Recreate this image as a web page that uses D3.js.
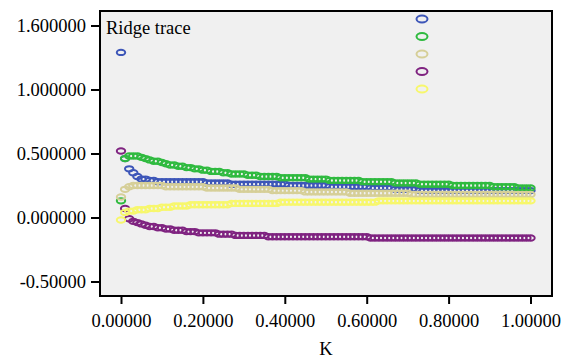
<!DOCTYPE html>
<html><head><meta charset="utf-8">
<script src="https://cdn.jsdelivr.net/npm/d3@7"></script>
<style>
body{margin:0;background:#fff;}
text{font-family:"Liberation Serif","Times New Roman",serif;fill:#000;}
</style></head>
<body><svg id="c" width="568" height="358"></svg>
<script>
const kStart = 0, kStep = 0.01;
const seriesNames = ["b1","b2","b3","b4","b5"];
const seriesColors = ["#3d56b8","#2fba3f","#d6cf98","#7f2380","#f7f76c"];
const blue = [1.29,0.46,0.38,0.35,0.32,0.30,0.30,0.29,0.29,0.28,0.28,
 0.28,0.28,0.28,0.28,0.28,0.28,0.28,0.28,0.28,0.28,
 0.27,0.27,0.27,0.27,0.27,0.27,
 0.26,0.26,0.26,0.26,0.26,0.26,0.26,0.26,0.26,0.26,0.26,0.26,0.26,0.26,
 0.25,0.25,0.25,0.25,0.25,0.25,0.25,0.25,0.25,0.25,
 0.24,0.24,0.24,0.24,0.24,0.24,0.24,0.24,0.24,0.24,
 0.23,0.23,0.23,0.23,0.23,0.23,
 0.22,0.22,0.22,0.22,0.22,0.22,
 0.21,0.21,0.21,0.21,0.21,0.21,0.21,0.21,0.21,0.21,0.21,0.21,0.21,0.21,
 0.21,0.21,0.21,0.21,0.21,0.21,0.21,0.21,0.21,0.21,0.21,0.21,0.21,0.21];
const green = [0.13,0.46,0.48,0.48,0.48,0.47,0.46,0.45,0.44,0.44,0.43,0.42,0.41,0.41,0.40,0.40,0.39,0.39,0.38,0.38,
 0.37,0.37,0.36,0.36,0.36,0.35,0.35,0.34,0.34,0.34,0.34,0.33,0.33,0.33,0.32,
 0.32,0.32,0.32,0.32,0.31,0.31,0.31,0.31,
 0.31,0.31,0.31,0.30,0.30,0.30,0.30,0.30,
 0.29,0.29,0.29,0.29,0.29,0.29,0.29,0.29,
 0.28,0.28,0.28,0.28,0.28,0.28,0.28,0.28,
 0.27,0.27,0.27,0.27,0.27,0.27,
 0.26,0.26,0.26,0.26,0.26,0.26,0.26,0.26,
 0.25,0.25,0.25,0.25,0.25,0.25,0.25,0.25,0.25,0.25,
 0.24,0.24,0.24,0.24,0.24,0.24,
 0.23,0.23,0.23,0.23];
const tan = [0.16,0.22,0.24,
 0.25,0.25,0.25,0.25,0.25,0.25,0.25,0.25,0.24,0.24,0.24,0.24,0.24,0.24,0.24,0.24,0.24,0.24,
 0.23,0.23,0.23,0.23,0.23,0.23,0.23,0.23,
 0.22,0.22,0.22,0.22,0.22,0.22,0.22,0.22,
 0.21,0.21,0.21,0.21,0.21,0.21,0.21,0.21,
 0.20,0.20,0.20,0.20,0.20,0.20,0.20,0.20,0.20,0.20,0.20,
 0.19,0.19,0.19,0.19,0.19,0.19,0.19,0.19,0.19,0.19,0.19,0.19,0.19,0.19,0.19,
 0.18,0.18,0.18,0.18,0.18,0.18,0.18,0.18,0.18,0.18,0.18,0.18,0.18,0.18,0.18,
 0.18,0.18,0.18,0.18,0.18,0.18,0.18,0.18,0.18,0.18,0.18,0.18,0.18,0.18,0.18];
const purple = [0.52,0.07,-0.01,-0.03,-0.04,-0.05,-0.06,-0.07,-0.07,-0.08,-0.08,-0.09,-0.09,-0.10,-0.10,-0.10,-0.11,-0.11,-0.11,-0.12,-0.12,
 -0.12,-0.12,-0.12,-0.13,-0.13,-0.13,-0.13,
 -0.14,-0.14,-0.14,-0.14,-0.14,-0.14,-0.14,-0.14,
 -0.15,-0.15,-0.15,-0.15,-0.15,-0.15,-0.15,-0.15,-0.15,-0.15,-0.15,-0.15,-0.15,-0.15,-0.15,-0.15,-0.15,-0.15,-0.15,-0.15,-0.15,-0.15,-0.15,-0.15,-0.15,
 -0.16,-0.16,-0.16,-0.16,-0.16,-0.16,-0.16,-0.16,-0.16,-0.16,-0.16,-0.16,-0.16,-0.16,-0.16,-0.16,-0.16,-0.16,-0.16,-0.16,
 -0.16,-0.16,-0.16,-0.16,-0.16,-0.16,-0.16,-0.16,-0.16,-0.16,-0.16,-0.16,-0.16,-0.16,-0.16,-0.16,-0.16,-0.16,-0.16,-0.16];
const yellow = [-0.02,0.04,0.05,0.05,0.06,0.06,0.06,0.07,0.07,0.07,0.08,0.08,0.08,0.09,0.09,0.09,0.09,0.10,0.10,0.10,0.10,
 0.10,0.10,0.10,0.10,0.10,0.10,0.11,0.11,0.11,0.11,0.11,0.11,0.11,
 0.11,0.11,0.11,0.11,0.11,0.12,0.12,0.12,0.12,0.12,0.12,0.12,
 0.12,0.12,0.12,0.12,0.12,0.12,0.12,0.12,0.12,0.12,0.12,0.12,0.12,0.12,0.12,0.12,0.12,
 0.13,0.13,0.13,0.13,0.13,0.13,0.13,0.13,0.13,0.13,0.13,0.13,0.13,0.13,0.13,0.13,0.13,0.13,0.13,
 0.13,0.13,0.13,0.13,0.13,0.13,0.13,0.13,0.13,0.13,0.13,0.13,0.13,0.13,0.13,0.13,0.13,0.13,0.13];
const xTicks = [0,0.2,0.4,0.6,0.8,1.0];
const xTickLabels = ["0.00000","0.20000","0.40000","0.60000","0.80000","1.00000"];
const yTicks = [-0.5,0,0.5,1.0,1.5];
const yTickLabels = ["-0.50000","0.000000","0.500000","1.000000","1.600000"];
const titleText = "Ridge trace";
const xLabel = "K";

const allSeries = [blue, green, tan, purple, yellow];
const svg = d3.select("#c");
const frame = {x0:100, x1:552, y0:11, y1:296};
const x = d3.scaleLinear().domain([0,1]).range([121,530.5]);
const y = d3.scaleLinear().domain([0,1.5]).range([217.5,25.5]);
const FS = 18.5;

svg.append("rect").attr("x",frame.x0).attr("y",frame.y0)
  .attr("width",frame.x1-frame.x0).attr("height",frame.y1-frame.y0)
  .attr("fill","#f0f0f0");

const plot = svg.append("g");
allSeries.forEach((vals,si)=>{
  plot.append("g").selectAll("ellipse").data(vals).join("ellipse")
    .attr("cx",(d,i)=>x(kStart+i*kStep))
    .attr("cy",d=>y(d))
    .attr("rx",4.2).attr("ry",2.7)
    .attr("fill","none").attr("stroke",seriesColors[si]).attr("stroke-width",2);
});

svg.append("rect").attr("x",frame.x0).attr("y",frame.y0)
  .attr("width",frame.x1-frame.x0).attr("height",frame.y1-frame.y0)
  .attr("fill","none").attr("stroke","#000").attr("stroke-width",2);

const yAxis = d3.axisLeft(y).tickValues(yTicks).tickSize(8).tickPadding(5)
  .tickFormat((d,i)=>yTickLabels[i]);
const gy = svg.append("g").attr("transform",`translate(${frame.x0-1},0)`).call(yAxis);
gy.select(".domain").remove();
gy.selectAll("line").attr("stroke","#000").attr("stroke-width",2);
gy.selectAll("text").attr("font-size",FS).attr("font-family","Liberation Serif").attr("fill","#000");

const xAxis = d3.axisBottom(x).tickValues(xTicks).tickSize(7).tickPadding(10)
  .tickFormat((d,i)=>xTickLabels[i]);
const gx = svg.append("g").attr("transform",`translate(0,${frame.y1+1})`).call(xAxis);
gx.select(".domain").remove();
gx.selectAll("line").attr("stroke","#000").attr("stroke-width",2);
gx.selectAll("text").attr("font-size",FS).attr("font-family","Liberation Serif").attr("fill","#000");

svg.append("text").attr("x",326).attr("y",355).attr("text-anchor","middle")
  .attr("font-size",FS).text(xLabel);
svg.append("text").attr("x",106).attr("y",34).attr("font-size",FS).text(titleText);

const leg = svg.append("g");
seriesNames.forEach((n,i)=>{
  leg.append("ellipse").attr("cx",422).attr("cy",19+i*17.5)
    .attr("rx",5.5).attr("ry",3.5).attr("fill","none")
    .attr("stroke",seriesColors[i]).attr("stroke-width",2);
});
</script></body></html>
